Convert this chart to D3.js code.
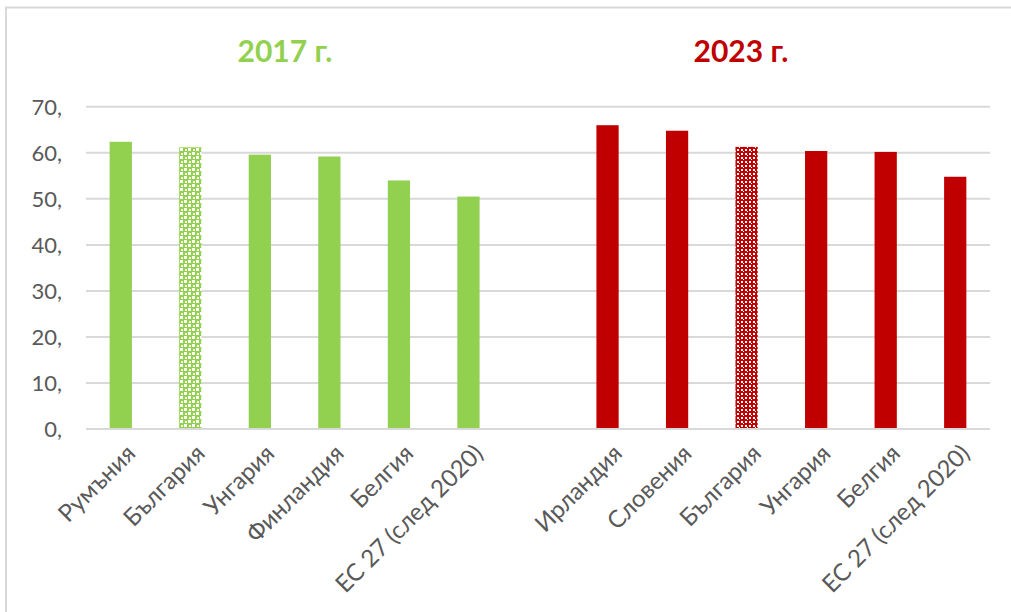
<!DOCTYPE html>
<html>
<head>
<meta charset="utf-8">
<script src="https://cdn.jsdelivr.net/npm/d3@7"></script>
<style>
  html, body { margin: 0; padding: 0; background: #fff; }
  svg { display: block; }
  text { font-family: Lato, "Open Sans", "Noto Sans", sans-serif; }
</style>
</head>
<body>
<svg id="chart" width="1011" height="612"></svg>
<script>
// ---- data ----
const categories2017 = ["Румъния", "България", "Унгария", "Финландия", "Белгия", "ЕС 27 (след 2020)"];
const values2017 = [62.4, 61.2, 59.6, 59.2, 54.0, 50.5];
const categories2023 = ["Ирландия", "Словения", "България", "Унгария", "Белгия", "ЕС 27 (след 2020)"];
const values2023 = [66.0, 64.8, 61.3, 60.4, 60.2, 54.8];
const highlighted = "България";
const groupTitles = ["2017 г.", "2023 г."];
const yTicks = [0, 10, 20, 30, 40, 50, 60, 70];
const yTickLabels = ["0,", "10,", "20,", "30,", "40,", "50,", "60,", "70,"];

// ---- build rows ----
const rows = [];
categories2017.forEach((c, i) => rows.push({ key: "a" + i, label: c, value: values2017[i], group: 0 }));
rows.push({ key: "gap", label: "", value: null, group: -1 });
categories2023.forEach((c, i) => rows.push({ key: "b" + i, label: c, value: values2023[i], group: 1 }));

const colors = ["#92D050", "#C00000"];

const svg = d3.select("#chart");
const W = 1011, H = 612;
const plot = { left: 86, right: 990, top: 106.8, bottom: 429 };

// frame
svg.append("rect").attr("x", 6).attr("y", 7.5).attr("width", W + 10).attr("height", H + 10)
  .attr("fill", "#fff").attr("stroke", "#d9d9d9").attr("stroke-width", 2);

// patterns
const defs = svg.append("defs");
colors.forEach((col, gi) => {
  const p = defs.append("pattern").attr("id", "pat" + gi).attr("patternUnits", "userSpaceOnUse")
    .attr("width", 8).attr("height", 8);
  p.append("rect").attr("width", 8).attr("height", 8).attr("fill", col);
  const whites = gi === 0
    ? [[0, 0, 3], [4, 4, 3], [5, 1, 2], [1, 5, 2]]
    : [[1, 1, 2], [5, 1, 2], [1, 5, 2], [5, 5, 2], [3, 3, 1], [7, 7, 1]];
  whites.forEach(([x, y, s]) => {
    p.append("rect").attr("x", x).attr("y", y).attr("width", s).attr("height", s).attr("fill", "#fff");
  });
});

const x = d3.scaleBand().domain(rows.map(r => r.key)).range([plot.left, plot.right])
  .paddingInner(0.68).paddingOuter(0.34);
const y = d3.scaleLinear().domain([0, 70]).range([plot.bottom, plot.top]);

// gridlines
svg.append("g").selectAll("line").data(yTicks.filter(t => t > 0)).join("line")
  .attr("x1", plot.left).attr("x2", plot.right)
  .attr("y1", d => y(d)).attr("y2", d => y(d))
  .attr("stroke", "#d9d9d9").attr("stroke-width", 2);

// y axis labels
const yAxis = d3.axisLeft(y).tickValues(yTicks).tickSize(0).tickPadding(0)
  .tickFormat((d, i) => yTickLabels[i]);
const gy = svg.append("g").attr("transform", `translate(62,0)`).call(yAxis);
gy.select(".domain").remove();
gy.selectAll("text").attr("fill", "#595959").style("font-size", "22px")
  .style("font-family", "Lato, 'Open Sans', sans-serif").attr("dy", "0.35em");

// bars
svg.append("g").selectAll("rect").data(rows.filter(r => r.value !== null)).join("rect")
  .attr("x", d => x(d.key)).attr("width", x.bandwidth())
  .attr("y", d => y(d.value)).attr("height", d => y(0) - y(d.value))
  .attr("fill", d => d.label === highlighted ? `url(#pat${d.group})` : colors[d.group]);

// x axis line
svg.append("line").attr("x1", plot.left).attr("x2", plot.right)
  .attr("y1", y(0)).attr("y2", y(0)).attr("stroke", "#d9d9d9").attr("stroke-width", 2);

// x labels
const xAxis = d3.axisBottom(x).tickSize(0).tickFormat(k => rows.find(r => r.key === k).label);
const gx = svg.append("g").attr("transform", `translate(0,${y(0)})`).call(xAxis);
gx.select(".domain").remove();
gx.selectAll("text")
  .attr("fill", "#595959").style("font-size", "24px")
  .style("font-family", "Lato, 'Open Sans', sans-serif")
  .attr("text-anchor", "end")
  .attr("dy", 0).attr("y", 0)
  .attr("transform", "translate(16,26) rotate(-45)");

// titles
const titleX = [285, 741];
groupTitles.forEach((t, i) => {
  svg.append("text").attr("x", titleX[i]).attr("y", 62).attr("text-anchor", "middle")
    .attr("fill", colors[i]).style("font-size", "30px").style("font-weight", "bold").text(t);
});
</script>
</body>
</html>
